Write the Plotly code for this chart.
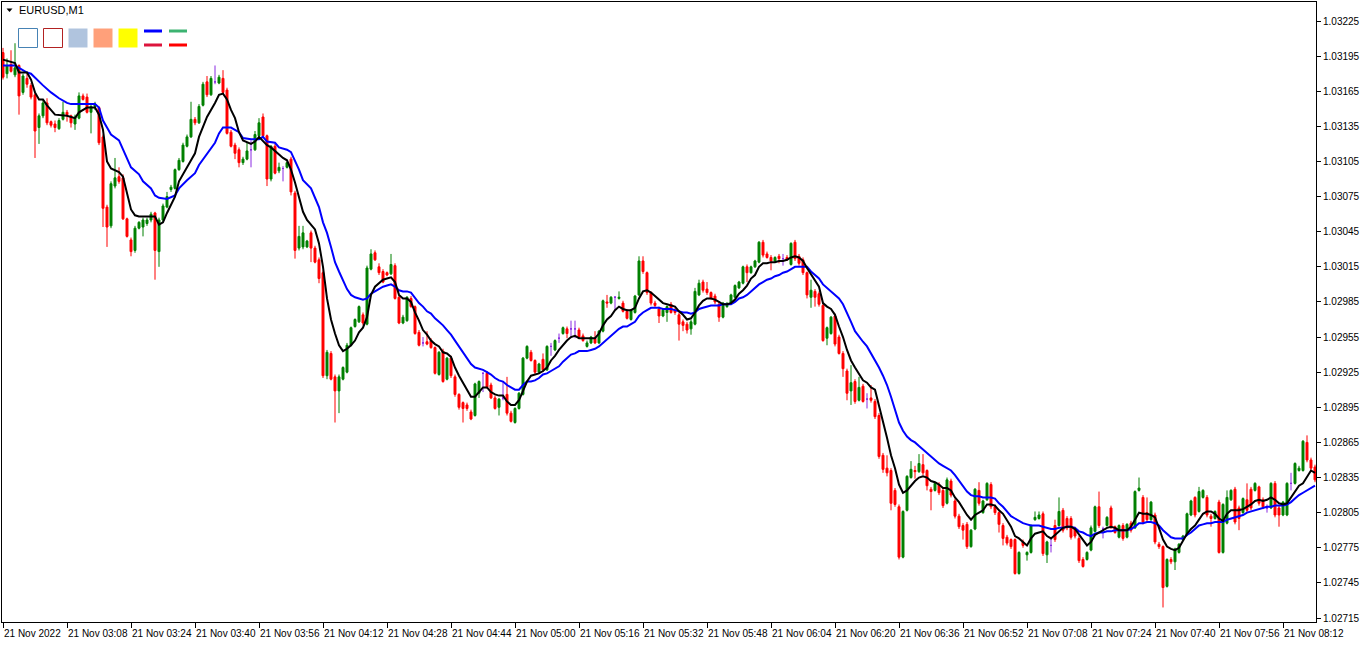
import plotly.graph_objects as go
import pandas as pd

# ---------------- data (EURUSD M1, 21 Nov 2022, 02:52 - 08:20) ----------------
start_time = "2022-11-21 02:52"

opens = [
    1.03198, 1.03180, 1.03188, 1.03179, 1.03187, 1.03164, 1.03176, 1.03170, 1.03162, 1.03134,
    1.03144, 1.03155, 1.03139, 1.03137, 1.03133, 1.03141, 1.03147, 1.03144, 1.03137, 1.03142,
    1.03161, 1.03160, 1.03147, 1.03152, 1.03151, 1.03126, 1.03066, 1.03050, 1.03084, 1.03092,
    1.03091, 1.03056, 1.03038, 1.03029, 1.03048, 1.03049, 1.03052, 1.03055, 1.03061, 1.03028,
    1.03055, 1.03066, 1.03081, 1.03082, 1.03098, 1.03105, 1.03118, 1.03126, 1.03141, 1.03138,
    1.03153, 1.03173, 1.03162, 1.03173, 1.03172, 1.03176, 1.03166, 1.03130, 1.03119, 1.03115,
    1.03104, 1.03107, 1.03115, 1.03115, 1.03127, 1.03143, 1.03127, 1.03090, 1.03118, 1.03097,
    1.03099, 1.03100, 1.03107, 1.03078, 1.03031, 1.03032, 1.03032, 1.03044, 1.03031, 1.03021,
    1.03010, 1.02922, 1.02941, 1.02921, 1.02909, 1.02919, 1.02925, 1.02948, 1.02964, 1.02968,
    1.02974, 1.02966, 1.03013, 1.03027, 1.03015, 1.03011, 1.03010, 1.03009, 1.03016, 1.02989,
    1.02967, 1.02969, 1.02988, 1.02981, 1.02959, 1.02950, 1.02951, 1.02952, 1.02946, 1.02923,
    1.02943, 1.02919, 1.02937, 1.02921, 1.02906, 1.02899, 1.02897, 1.02891, 1.02888, 1.02907,
    1.02924, 1.02924, 1.02914, 1.02903, 1.02895, 1.02903, 1.02906, 1.02890, 1.02882, 1.02894,
    1.02906, 1.02937, 1.02942, 1.02935, 1.02925, 1.02936, 1.02927, 1.02947, 1.02944, 1.02954,
    1.02958, 1.02962, 1.02962, 1.02962, 1.02961, 1.02956, 1.02947, 1.02950, 1.02954, 1.02950,
    1.02960, 1.02985, 1.02984, 1.02989, 1.02988, 1.02984, 1.02977, 1.02970, 1.02976, 1.02991,
    1.03020, 1.03010, 1.02993, 1.02984, 1.02979, 1.02973, 1.02976, 1.02983, 1.02978, 1.02974,
    1.02968, 1.02966, 1.02962, 1.02966, 1.02991, 1.03002, 1.02996, 1.02993, 1.02990, 1.02983,
    1.02972, 1.02981, 1.02984, 1.02989, 1.02997, 1.03001, 1.03015, 1.03010, 1.03015, 1.03019,
    1.03036, 1.03026, 1.03023, 1.03020, 1.03024, 1.03022, 1.03023, 1.03017, 1.03036, 1.03024,
    1.03021, 1.03010, 1.02989, 1.02994, 1.02992, 1.02982, 1.02954, 1.02958, 1.02973, 1.02955,
    1.02941, 1.02926, 1.02909, 1.02917, 1.02901, 1.02913, 1.02902, 1.02903, 1.02900, 1.02888,
    1.02854, 1.02843, 1.02841, 1.02824, 1.02810, 1.02767, 1.02807, 1.02835, 1.02841, 1.02840,
    1.02846, 1.02841, 1.02825, 1.02824, 1.02829, 1.02824, 1.02813, 1.02832, 1.02815, 1.02802,
    1.02794, 1.02795, 1.02776, 1.02791, 1.02824, 1.02805, 1.02816, 1.02829, 1.02810, 1.02805,
    1.02794, 1.02784, 1.02782, 1.02782, 1.02753, 1.02780, 1.02769, 1.02771, 1.02799, 1.02800,
    1.02804, 1.02769, 1.02777, 1.02794, 1.02794, 1.02807, 1.02800, 1.02800, 1.02791, 1.02783,
    1.02765, 1.02765, 1.02773, 1.02789, 1.02810, 1.02791, 1.02794, 1.02809, 1.02793, 1.02784,
    1.02794, 1.02784, 1.02796, 1.02792, 1.02824, 1.02818, 1.02805, 1.02799, 1.02803, 1.02778,
    1.02776, 1.02742, 1.02765, 1.02763, 1.02771, 1.02782, 1.02786, 1.02803, 1.02818, 1.02806,
    1.02818, 1.02818, 1.02802, 1.02800, 1.02814, 1.02771, 1.02796, 1.02816, 1.02825, 1.02809,
    1.02805, 1.02816, 1.02825, 1.02824, 1.02827, 1.02816, 1.02809, 1.02809, 1.02830, 1.02809,
    1.02803, 1.02803, 1.02830, 1.02830, 1.02841, 1.02841, 1.02865, 1.02850, 1.02844,
]

highs = [
    1.03202, 1.03193, 1.03200, 1.03206, 1.03188, 1.03180, 1.03180, 1.03172, 1.03164, 1.03146,
    1.03158, 1.03159, 1.03140, 1.03140, 1.03142, 1.03156, 1.03149, 1.03145, 1.03145, 1.03164,
    1.03163, 1.03163, 1.03154, 1.03156, 1.03152, 1.03128, 1.03068, 1.03088, 1.03108, 1.03100,
    1.03094, 1.03057, 1.03040, 1.03050, 1.03054, 1.03057, 1.03057, 1.03062, 1.03062, 1.03057,
    1.03069, 1.03079, 1.03085, 1.03099, 1.03108, 1.03121, 1.03128, 1.03156, 1.03143, 1.03154,
    1.03173, 1.03178, 1.03178, 1.03187, 1.03179, 1.03183, 1.03168, 1.03132, 1.03121, 1.03117,
    1.03109, 1.03121, 1.03123, 1.03131, 1.03142, 1.03146, 1.03128, 1.03119, 1.03120, 1.03104,
    1.03101, 1.03105, 1.03109, 1.03080, 1.03050, 1.03050, 1.03038, 1.03046, 1.03033, 1.03023,
    1.03012, 1.02944, 1.02943, 1.02923, 1.02923, 1.02930, 1.02950, 1.02964, 1.02971, 1.02982,
    1.02976, 1.03016, 1.03030, 1.03029, 1.03018, 1.03013, 1.03011, 1.03026, 1.03018, 1.02991,
    1.02974, 1.02990, 1.02990, 1.02982, 1.02961, 1.02955, 1.02960, 1.02954, 1.02947, 1.02943,
    1.02945, 1.02938, 1.02939, 1.02923, 1.02907, 1.02900, 1.02899, 1.02893, 1.02916, 1.02918,
    1.02925, 1.02926, 1.02916, 1.02905, 1.02903, 1.02917, 1.02921, 1.02892, 1.02895, 1.02908,
    1.02938, 1.02948, 1.02944, 1.02936, 1.02933, 1.02941, 1.02948, 1.02950, 1.02953, 1.02958,
    1.02964, 1.02964, 1.02969, 1.02969, 1.02963, 1.02958, 1.02952, 1.02956, 1.02960, 1.02961,
    1.02987, 1.02991, 1.02990, 1.02990, 1.02994, 1.02986, 1.02979, 1.02979, 1.02991, 1.03024,
    1.03024, 1.03011, 1.02994, 1.02986, 1.02981, 1.02979, 1.02982, 1.02985, 1.02980, 1.02976,
    1.02970, 1.02968, 1.02970, 1.02997, 1.03004, 1.03004, 1.03002, 1.02994, 1.02992, 1.02985,
    1.02985, 1.02985, 1.02992, 1.03000, 1.03003, 1.03016, 1.03017, 1.03016, 1.03021, 1.03037,
    1.03038, 1.03028, 1.03025, 1.03024, 1.03026, 1.03026, 1.03025, 1.03036, 1.03038, 1.03026,
    1.03023, 1.03011, 1.03004, 1.02996, 1.02994, 1.02984, 1.02964, 1.02973, 1.02975, 1.02957,
    1.02943, 1.02928, 1.02931, 1.02919, 1.02921, 1.02915, 1.02907, 1.02914, 1.02902, 1.02890,
    1.02856, 1.02854, 1.02843, 1.02826, 1.02812, 1.02807, 1.02837, 1.02849, 1.02845, 1.02855,
    1.02855, 1.02842, 1.02827, 1.02831, 1.02831, 1.02826, 1.02835, 1.02834, 1.02817, 1.02804,
    1.02796, 1.02797, 1.02791, 1.02826, 1.02831, 1.02816, 1.02831, 1.02831, 1.02812, 1.02806,
    1.02796, 1.02786, 1.02783, 1.02783, 1.02772, 1.02782, 1.02772, 1.02795, 1.02806, 1.02806,
    1.02806, 1.02781, 1.02784, 1.02799, 1.02818, 1.02809, 1.02802, 1.02802, 1.02793, 1.02785,
    1.02767, 1.02772, 1.02794, 1.02811, 1.02823, 1.02793, 1.02802, 1.02811, 1.02794, 1.02795,
    1.02796, 1.02796, 1.02798, 1.02824, 1.02835, 1.02820, 1.02818, 1.02815, 1.02805, 1.02780,
    1.02777, 1.02766, 1.02767, 1.02775, 1.02779, 1.02786, 1.02805, 1.02816, 1.02819, 1.02827,
    1.02825, 1.02820, 1.02804, 1.02807, 1.02816, 1.02813, 1.02824, 1.02825, 1.02827, 1.02811,
    1.02818, 1.02830, 1.02827, 1.02831, 1.02828, 1.02818, 1.02812, 1.02831, 1.02832, 1.02811,
    1.02815, 1.02831, 1.02839, 1.02848, 1.02845, 1.02867, 1.02871, 1.02852, 1.02846,
]

lows = [
    1.03175, 1.03176, 1.03181, 1.03177, 1.03145, 1.03162, 1.03168, 1.03158, 1.03108, 1.03120,
    1.03142, 1.03136, 1.03134, 1.03130, 1.03132, 1.03140, 1.03139, 1.03134, 1.03132, 1.03141,
    1.03157, 1.03146, 1.03129, 1.03149, 1.03119, 1.03049, 1.03032, 1.03048, 1.03082, 1.03086,
    1.03055, 1.03040, 1.03024, 1.03027, 1.03047, 1.03041, 1.03050, 1.03053, 1.03004, 1.03015,
    1.03053, 1.03065, 1.03079, 1.03081, 1.03097, 1.03104, 1.03117, 1.03125, 1.03136, 1.03137,
    1.03152, 1.03160, 1.03161, 1.03171, 1.03171, 1.03163, 1.03128, 1.03117, 1.03107, 1.03100,
    1.03102, 1.03106, 1.03100, 1.03114, 1.03126, 1.03126, 1.03084, 1.03088, 1.03094, 1.03095,
    1.03088, 1.03099, 1.03076, 1.03022, 1.03029, 1.03030, 1.03031, 1.03019, 1.03018, 1.03001,
    1.02920, 1.02919, 1.02918, 1.02882, 1.02890, 1.02918, 1.02924, 1.02947, 1.02963, 1.02967,
    1.02965, 1.02965, 1.03012, 1.03020, 1.03008, 1.03001, 1.03007, 1.03008, 1.02987, 1.02966,
    1.02966, 1.02968, 1.02980, 1.02957, 1.02947, 1.02947, 1.02948, 1.02945, 1.02923, 1.02922,
    1.02916, 1.02918, 1.02920, 1.02904, 1.02893, 1.02882, 1.02892, 1.02884, 1.02887, 1.02903,
    1.02908, 1.02911, 1.02902, 1.02893, 1.02888, 1.02901, 1.02888, 1.02882, 1.02881, 1.02893,
    1.02905, 1.02936, 1.02934, 1.02923, 1.02924, 1.02925, 1.02926, 1.02939, 1.02943, 1.02950,
    1.02957, 1.02954, 1.02954, 1.02954, 1.02954, 1.02951, 1.02946, 1.02949, 1.02949, 1.02949,
    1.02959, 1.02980, 1.02983, 1.02978, 1.02987, 1.02976, 1.02970, 1.02969, 1.02975, 1.02990,
    1.03009, 1.02991, 1.02982, 1.02980, 1.02967, 1.02972, 1.02968, 1.02975, 1.02974, 1.02952,
    1.02960, 1.02958, 1.02957, 1.02965, 1.02990, 1.02993, 1.02991, 1.02987, 1.02983, 1.02968,
    1.02971, 1.02980, 1.02983, 1.02988, 1.02996, 1.03000, 1.03002, 1.03009, 1.03014, 1.03018,
    1.03023, 1.03022, 1.03012, 1.03019, 1.03018, 1.03016, 1.03020, 1.03016, 1.03020, 1.03016,
    1.03008, 1.02988, 1.02980, 1.02981, 1.02981, 1.02951, 1.02948, 1.02957, 1.02947, 1.02940,
    1.02921, 1.02901, 1.02897, 1.02898, 1.02900, 1.02899, 1.02894, 1.02899, 1.02885, 1.02851,
    1.02839, 1.02836, 1.02807, 1.02810, 1.02765, 1.02766, 1.02806, 1.02834, 1.02834, 1.02839,
    1.02837, 1.02824, 1.02807, 1.02823, 1.02820, 1.02809, 1.02812, 1.02818, 1.02800, 1.02791,
    1.02782, 1.02774, 1.02775, 1.02790, 1.02811, 1.02804, 1.02815, 1.02808, 1.02803, 1.02788,
    1.02777, 1.02777, 1.02774, 1.02752, 1.02752, 1.02775, 1.02764, 1.02770, 1.02798, 1.02799,
    1.02768, 1.02762, 1.02771, 1.02780, 1.02793, 1.02788, 1.02790, 1.02782, 1.02783, 1.02762,
    1.02758, 1.02764, 1.02772, 1.02788, 1.02792, 1.02783, 1.02793, 1.02791, 1.02787, 1.02783,
    1.02781, 1.02783, 1.02788, 1.02791, 1.02823, 1.02795, 1.02797, 1.02798, 1.02778, 1.02774,
    1.02724, 1.02741, 1.02761, 1.02756, 1.02770, 1.02781, 1.02785, 1.02802, 1.02801, 1.02805,
    1.02817, 1.02801, 1.02793, 1.02799, 1.02770, 1.02770, 1.02795, 1.02815, 1.02795, 1.02790,
    1.02804, 1.02805, 1.02807, 1.02823, 1.02811, 1.02808, 1.02805, 1.02808, 1.02801, 1.02793,
    1.02802, 1.02802, 1.02824, 1.02829, 1.02840, 1.02840, 1.02848, 1.02841, 1.02831,
]

closes = [
    1.03177, 1.03187, 1.03182, 1.03185, 1.03161, 1.03178, 1.03171, 1.03160, 1.03131, 1.03144,
    1.03155, 1.03138, 1.03136, 1.03134, 1.03140, 1.03147, 1.03145, 1.03138, 1.03143, 1.03161,
    1.03158, 1.03147, 1.03152, 1.03154, 1.03121, 1.03065, 1.03049, 1.03086, 1.03091, 1.03088,
    1.03056, 1.03041, 1.03028, 1.03048, 1.03053, 1.03055, 1.03055, 1.03060, 1.03029, 1.03055,
    1.03067, 1.03075, 1.03083, 1.03098, 1.03106, 1.03119, 1.03126, 1.03141, 1.03138, 1.03152,
    1.03171, 1.03162, 1.03176, 1.03173, 1.03177, 1.03164, 1.03129, 1.03118, 1.03112, 1.03104,
    1.03107, 1.03114, 1.03115, 1.03128, 1.03138, 1.03127, 1.03090, 1.03118, 1.03095, 1.03100,
    1.03099, 1.03104, 1.03079, 1.03029, 1.03041, 1.03044, 1.03037, 1.03031, 1.03019, 1.03005,
    1.02922, 1.02942, 1.02919, 1.02909, 1.02921, 1.02929, 1.02948, 1.02963, 1.02970, 1.02981,
    1.02967, 1.03014, 1.03026, 1.03021, 1.03010, 1.03002, 1.03008, 1.03017, 1.02988, 1.02967,
    1.02972, 1.02989, 1.02981, 1.02958, 1.02948, 1.02950, 1.02949, 1.02946, 1.02924, 1.02942,
    1.02917, 1.02937, 1.02922, 1.02906, 1.02895, 1.02894, 1.02894, 1.02885, 1.02915, 1.02917,
    1.02924, 1.02912, 1.02903, 1.02894, 1.02902, 1.02903, 1.02890, 1.02883, 1.02894, 1.02907,
    1.02937, 1.02947, 1.02935, 1.02925, 1.02932, 1.02927, 1.02947, 1.02947, 1.02952, 1.02954,
    1.02963, 1.02958, 1.02962, 1.02962, 1.02955, 1.02952, 1.02950, 1.02955, 1.02950, 1.02960,
    1.02986, 1.02984, 1.02989, 1.02989, 1.02989, 1.02977, 1.02971, 1.02978, 1.02990, 1.03020,
    1.03011, 1.02993, 1.02984, 1.02982, 1.02973, 1.02978, 1.02981, 1.02976, 1.02976, 1.02966,
    1.02965, 1.02961, 1.02968, 1.02994, 1.03001, 1.02995, 1.02993, 1.02988, 1.02985, 1.02972,
    1.02984, 1.02983, 1.02991, 1.02999, 1.03002, 1.03015, 1.03010, 1.03015, 1.03020, 1.03036,
    1.03025, 1.03023, 1.03020, 1.03023, 1.03022, 1.03022, 1.03021, 1.03035, 1.03022, 1.03018,
    1.03010, 1.02991, 1.02995, 1.02989, 1.02983, 1.02952, 1.02963, 1.02972, 1.02949, 1.02941,
    1.02928, 1.02907, 1.02916, 1.02900, 1.02912, 1.02900, 1.02902, 1.02901, 1.02887, 1.02853,
    1.02842, 1.02839, 1.02813, 1.02812, 1.02767, 1.02806, 1.02836, 1.02842, 1.02840, 1.02847,
    1.02839, 1.02828, 1.02823, 1.02830, 1.02822, 1.02811, 1.02833, 1.02820, 1.02802, 1.02793,
    1.02790, 1.02776, 1.02790, 1.02825, 1.02813, 1.02815, 1.02830, 1.02810, 1.02805, 1.02795,
    1.02783, 1.02779, 1.02776, 1.02753, 1.02771, 1.02777, 1.02771, 1.02794, 1.02801, 1.02803,
    1.02770, 1.02780, 1.02777, 1.02782, 1.02806, 1.02790, 1.02792, 1.02784, 1.02785, 1.02764,
    1.02759, 1.02771, 1.02792, 1.02810, 1.02794, 1.02791, 1.02801, 1.02793, 1.02788, 1.02794,
    1.02783, 1.02795, 1.02790, 1.02823, 1.02826, 1.02797, 1.02799, 1.02814, 1.02780, 1.02776,
    1.02741, 1.02765, 1.02763, 1.02774, 1.02778, 1.02785, 1.02804, 1.02815, 1.02803, 1.02823,
    1.02824, 1.02803, 1.02800, 1.02806, 1.02771, 1.02812, 1.02818, 1.02824, 1.02797, 1.02800,
    1.02817, 1.02807, 1.02809, 1.02830, 1.02813, 1.02810, 1.02809, 1.02830, 1.02803, 1.02803,
    1.02814, 1.02830, 1.02830, 1.02847, 1.02843, 1.02866, 1.02850, 1.02843, 1.02833,
]

# fast moving average (black) - bar index and value
fast_t = [0, 3, 4, 6, 7, 8, 9, 10, 11, 12, 13, 16, 18, 19, 21, 23, 24, 25, 26, 27,
          29, 30, 31, 32, 33, 34, 36, 38, 39, 40, 41, 43, 44, 46, 48, 49, 51, 53, 54, 55,
          56, 57, 58, 59, 60, 62, 63, 64, 66, 67, 69, 70, 71, 72, 73, 74, 75, 76, 78, 79,
          80] + list(range(81, 329))
fast_v = [
    1.03192, 1.03189, 1.03181, 1.03181, 1.03175, 1.03164, 1.03158, 1.03158, 1.03153, 1.03149,
    1.03145, 1.03144, 1.03142, 1.03147, 1.03151, 1.03151, 1.03145, 1.03132, 1.03105, 1.03099,
    1.03096, 1.03092, 1.03078, 1.03064, 1.03059, 1.03058, 1.03058, 1.03058, 1.03051, 1.03053,
    1.03061, 1.03075, 1.03088, 1.03100, 1.03112, 1.03126, 1.03143, 1.03155, 1.03162, 1.03163,
    1.03158, 1.03149, 1.03142, 1.03130, 1.03123, 1.03120, 1.03122, 1.03126, 1.03119, 1.03117,
    1.03111, 1.03108, 1.03106, 1.03098, 1.03087, 1.03075, 1.03062, 1.03055, 1.03047, 1.03035,
    1.03015,
    1.02988, 1.02970, 1.02958, 1.02948, 1.02943, 1.02945, 1.02948, 1.02952, 1.02959, 1.02963,
    1.02972, 1.02991, 1.02998, 1.03001, 1.03004, 1.03005, 1.03006, 1.03002, 1.02991, 1.02988,
    1.02988, 1.02985, 1.02976, 1.02969, 1.02961, 1.02957, 1.02952, 1.02949, 1.02947, 1.02942,
    1.02941, 1.02938, 1.02929, 1.02922, 1.02916, 1.02909, 1.02904, 1.02904, 1.02908, 1.02912,
    1.02912, 1.02908, 1.02906, 1.02905, 1.02905, 1.02900, 1.02897, 1.02897, 1.02901, 1.02909,
    1.02917, 1.02922, 1.02923, 1.02924, 1.02926, 1.02929, 1.02935, 1.02939, 1.02944, 1.02948,
    1.02952, 1.02955, 1.02956, 1.02954, 1.02954, 1.02954, 1.02954, 1.02954, 1.02958, 1.02965,
    1.02970, 1.02973, 1.02978, 1.02981, 1.02979, 1.02978, 1.02978, 1.02980, 1.02988, 1.02994,
    1.02995, 1.02993, 1.02990, 1.02987, 1.02984, 1.02983, 1.02982, 1.02981, 1.02977, 1.02974,
    1.02970, 1.02971, 1.02976, 1.02982, 1.02986, 1.02988, 1.02988, 1.02987, 1.02985, 1.02983,
    1.02983, 1.02984, 1.02987, 1.02992, 1.02995, 1.02999, 1.03005, 1.03008, 1.03015, 1.03018,
    1.03018, 1.03019, 1.03019, 1.03020, 1.03020, 1.03021, 1.03023, 1.03024, 1.03023, 1.03020,
    1.03014, 1.03009, 1.03004, 1.02998, 1.02984, 1.02981, 1.02979, 1.02974, 1.02964, 1.02955,
    1.02944, 1.02935, 1.02929, 1.02923, 1.02918, 1.02916, 1.02912, 1.02910, 1.02897, 1.02882,
    1.02869, 1.02854, 1.02843, 1.02829, 1.02822, 1.02824, 1.02828, 1.02832, 1.02835, 1.02836,
    1.02835, 1.02832, 1.02831, 1.02829, 1.02826, 1.02826, 1.02824, 1.02818, 1.02814, 1.02808,
    1.02803, 1.02799, 1.02803, 1.02805, 1.02807, 1.02812, 1.02812, 1.02811, 1.02807, 1.02804,
    1.02799, 1.02793, 1.02785, 1.02783, 1.02780, 1.02777, 1.02783, 1.02787, 1.02788, 1.02789,
    1.02785, 1.02783, 1.02786, 1.02789, 1.02792, 1.02793, 1.02793, 1.02791, 1.02786, 1.02781,
    1.02777, 1.02780, 1.02786, 1.02788, 1.02790, 1.02792, 1.02793, 1.02792, 1.02790, 1.02790,
    1.02790, 1.02793, 1.02799, 1.02805, 1.02804, 1.02804, 1.02803, 1.02801, 1.02792, 1.02782,
    1.02776, 1.02774, 1.02773, 1.02775, 1.02781, 1.02787, 1.02791, 1.02794, 1.02799, 1.02804,
    1.02806, 1.02806, 1.02804, 1.02800, 1.02798, 1.02804, 1.02807, 1.02807, 1.02807, 1.02808,
    1.02810, 1.02812, 1.02815, 1.02816, 1.02815, 1.02816, 1.02818, 1.02816, 1.02813, 1.02812,
    1.02813, 1.02818, 1.02824, 1.02828, 1.02830, 1.02835, 1.02841, 1.02839,
]

# slow moving average (blue)
slow_t = [0, 3, 4, 6, 7, 9, 10, 12, 14, 16, 17, 19, 23, 24, 25, 26, 27, 29, 30, 32,
          34, 35, 37, 38, 39, 41, 43, 44, 46, 48, 49, 51, 53, 54, 55, 57, 59, 60, 62, 64,
          65, 66, 68, 69, 71, 72, 73, 74, 75, 77, 78, 79, 80] + list(range(81, 329))
slow_v = [
    1.03187, 1.03187, 1.03185, 1.03181, 1.03180, 1.03173, 1.03170, 1.03164, 1.03159, 1.03155,
    1.03154, 1.03154, 1.03154, 1.03151, 1.03140, 1.03134, 1.03128, 1.03123, 1.03115, 1.03100,
    1.03094, 1.03088, 1.03082, 1.03076, 1.03074, 1.03073, 1.03076, 1.03082, 1.03089, 1.03095,
    1.03102, 1.03111, 1.03121, 1.03129, 1.03134, 1.03134, 1.03130, 1.03125, 1.03124, 1.03124,
    1.03126, 1.03122, 1.03121, 1.03117, 1.03115, 1.03113, 1.03106, 1.03098, 1.03089, 1.03082,
    1.03074, 1.03066, 1.03053,
    1.03044, 1.03032, 1.03019, 1.03011, 1.03003, 1.02996, 1.02991, 1.02989, 1.02988, 1.02987,
    1.02988, 1.02992, 1.02994, 1.02996, 1.02998, 1.02999, 1.03000, 1.02998, 1.02995, 1.02994,
    1.02994, 1.02993, 1.02988, 1.02984, 1.02981, 1.02977, 1.02975, 1.02971, 1.02968, 1.02965,
    1.02961, 1.02957, 1.02952, 1.02947, 1.02942, 1.02937, 1.02932, 1.02929, 1.02928, 1.02927,
    1.02925, 1.02923, 1.02920, 1.02918, 1.02917, 1.02914, 1.02912, 1.02910, 1.02910, 1.02914,
    1.02917, 1.02917, 1.02918, 1.02920, 1.02923, 1.02924, 1.02926, 1.02928, 1.02930, 1.02934,
    1.02937, 1.02940, 1.02941, 1.02943, 1.02943, 1.02943, 1.02944, 1.02945, 1.02947, 1.02950,
    1.02953, 1.02956, 1.02959, 1.02962, 1.02964, 1.02964, 1.02966, 1.02968, 1.02973, 1.02976,
    1.02978, 1.02980, 1.02980, 1.02980, 1.02979, 1.02979, 1.02979, 1.02978, 1.02977, 1.02976,
    1.02976, 1.02975, 1.02976, 1.02979, 1.02980, 1.02981, 1.02982, 1.02982, 1.02982, 1.02983,
    1.02983, 1.02983, 1.02985, 1.02988, 1.02989, 1.02991, 1.02994, 1.02997, 1.03000, 1.03002,
    1.03004, 1.03005, 1.03007, 1.03008, 1.03010, 1.03011, 1.03013, 1.03015, 1.03015, 1.03015,
    1.03015, 1.03011, 1.03008, 1.03005, 1.03000, 1.02997, 1.02994, 1.02991, 1.02988, 1.02983,
    1.02976, 1.02968, 1.02960, 1.02955, 1.02951, 1.02947, 1.02941, 1.02936, 1.02929, 1.02922,
    1.02914, 1.02904, 1.02893, 1.02882, 1.02875, 1.02870, 1.02867, 1.02865, 1.02862, 1.02859,
    1.02856, 1.02853, 1.02850, 1.02847, 1.02845, 1.02843, 1.02841, 1.02837, 1.02832, 1.02828,
    1.02823, 1.02820, 1.02819, 1.02819, 1.02818, 1.02818, 1.02818, 1.02817, 1.02813, 1.02810,
    1.02806, 1.02802, 1.02800, 1.02798, 1.02796, 1.02795, 1.02794, 1.02794, 1.02794, 1.02793,
    1.02792, 1.02791, 1.02791, 1.02792, 1.02792, 1.02793, 1.02793, 1.02792, 1.02789, 1.02788,
    1.02786, 1.02785, 1.02787, 1.02788, 1.02788, 1.02789, 1.02789, 1.02790, 1.02790, 1.02790,
    1.02790, 1.02791, 1.02793, 1.02796, 1.02796, 1.02797, 1.02797, 1.02796, 1.02794, 1.02790,
    1.02787, 1.02784, 1.02783, 1.02783, 1.02783, 1.02786, 1.02788, 1.02791, 1.02794, 1.02795,
    1.02796, 1.02796, 1.02797, 1.02797, 1.02797, 1.02799, 1.02800, 1.02801, 1.02802, 1.02803,
    1.02805, 1.02806, 1.02807, 1.02808, 1.02809, 1.02810, 1.02810, 1.02811, 1.02811, 1.02811,
    1.02812, 1.02814, 1.02817, 1.02820, 1.02822, 1.02824, 1.02826, 1.02828,
]

time_tick_bars = list(range(0, 321, 16))
time_tick_labels = [
    "21 Nov 2022", "21 Nov 03:08", "21 Nov 03:24", "21 Nov 03:40", "21 Nov 03:56",
    "21 Nov 04:12", "21 Nov 04:28", "21 Nov 04:44", "21 Nov 05:00", "21 Nov 05:16",
    "21 Nov 05:32", "21 Nov 05:48", "21 Nov 06:04", "21 Nov 06:20", "21 Nov 06:36",
    "21 Nov 06:52", "21 Nov 07:08", "21 Nov 07:24", "21 Nov 07:40", "21 Nov 07:56",
    "21 Nov 08:12",
]
price_tick_labels = [
    "1.03225", "1.03195", "1.03165", "1.03135", "1.03105", "1.03075", "1.03045",
    "1.03015", "1.02985", "1.02955", "1.02925", "1.02895", "1.02865", "1.02835",
    "1.02805", "1.02775", "1.02745", "1.02715",
]

# ---------------- figure ----------------
W, H = 1362, 645
ML, MR, MT, MB = 2, 46, 2, 23
PW, PH = W - ML - MR, H - MT - MB

n = min(len(opens), len(highs), len(lows), len(closes))
times = pd.date_range(start_time, periods=n, freq="min")

GREEN = "#008000"
RED = "#FF0000"
DOJI = "#8A2BE2"
FONT = "Liberation Sans"


def pick(idx):
    return dict(
        x=[times[i] for i in idx],
        open=[opens[i] for i in idx],
        high=[highs[i] for i in idx],
        low=[lows[i] for i in idx],
        close=[closes[i] for i in idx],
    )


moving = [i for i in range(n) if closes[i] != opens[i]]
dojis = [i for i in range(n) if closes[i] == opens[i]]

fig = go.Figure()
fig.add_trace(go.Candlestick(
    **pick(moving),
    increasing=dict(line=dict(color=GREEN, width=1), fillcolor=GREEN),
    decreasing=dict(line=dict(color=RED, width=1), fillcolor=RED),
    whiskerwidth=0, showlegend=False, hoverinfo="skip",
))
fig.add_trace(go.Candlestick(
    **pick(dojis),
    increasing=dict(line=dict(color=DOJI, width=1), fillcolor=DOJI),
    decreasing=dict(line=dict(color=DOJI, width=1), fillcolor=DOJI),
    whiskerwidth=0, showlegend=False, hoverinfo="skip",
))

ms = min(len(slow_t), len(slow_v))
fig.add_trace(go.Scatter(
    x=[times[i] for i in slow_t[:ms]], y=slow_v[:ms], mode="lines",
    line=dict(color="#0000FF", width=2), showlegend=False, hoverinfo="skip",
))
mf = min(len(fast_t), len(fast_v))
fig.add_trace(go.Scatter(
    x=[times[i] for i in fast_t[:mf]], y=fast_v[:mf], mode="lines",
    line=dict(color="#000000", width=2), showlegend=False, hoverinfo="skip",
))


def px(xp):
    return (xp - ML) / PW


def py(yp):
    return 1 - (yp - MT) / PH


shapes = []
# top-left indicator legend boxes
boxes = [
    (18, "#FFFFFF", "#4682B4"),
    (43, "#FFFFFF", "#B22222"),
    (68, "#B0C4DE", None),
    (93, "#FFA07A", None),
    (118, "#FFFF00", None),
]
for x0, fill, edge in boxes:
    shapes.append(dict(
        type="rect", xref="paper", yref="paper", layer="above",
        x0=px(x0 + 0.5), x1=px(x0 + 19.5), y0=py(47.5), y1=py(28.5),
        fillcolor=fill,
        line=dict(color=edge if edge else fill, width=1 if edge else 0),
    ))
bars = [
    (144, 29.5, 32.5, "#0000FF"), (144, 43.5, 46.5, "#DC143C"),
    (169, 29.5, 32.5, "#3CB371"), (169, 43.5, 46.5, "#FF0000"),
]
for x0, y0, y1, col in bars:
    shapes.append(dict(
        type="rect", xref="paper", yref="paper", layer="above",
        x0=px(x0), x1=px(x0 + 18), y0=py(y1), y1=py(y0),
        fillcolor=col, line=dict(width=0),
    ))
# small black triangle before the symbol name
shapes.append(dict(
    type="path", xref="paper", yref="paper", layer="above",
    path="M {:.5f},{:.5f} L {:.5f},{:.5f} L {:.5f},{:.5f} Z".format(
        px(6.5), py(8.5), px(12.5), py(8.5), px(9.5), py(12)),
    fillcolor="#000000", line=dict(width=0),
))

fig.update_layout(
    width=W, height=H,
    margin=dict(l=ML, r=MR, t=MT, b=MB, pad=0, autoexpand=False),
    paper_bgcolor="#FFFFFF", plot_bgcolor="#FFFFFF",
    showlegend=False, hovermode=False,
    boxgap=0.3,
    shapes=shapes,
    annotations=[dict(
        text="EURUSD,M1", xref="paper", yref="paper",
        x=px(17), y=py(10), xanchor="left", yanchor="middle", showarrow=False,
        font=dict(family=FONT, size=11, color="#000000"),
    )],
)

fig.update_xaxes(
    type="date",
    automargin=False,
    range=[times[0] - pd.Timedelta(seconds=15), times[n - 1] + pd.Timedelta(seconds=15)],
    rangeslider=dict(visible=False),
    tickmode="array",
    tickvals=[times[i] for i in time_tick_bars],
    ticktext=time_tick_labels,
    tickangle=0,
    ticks="outside", ticklen=5, tickwidth=1, tickcolor="#000000",
    ticklabelposition="outside right",
    ticklabelstandoff=2,
    tickfont=dict(family=FONT, size=10, color="#000000"),
    showgrid=False, zeroline=False,
    showline=True, mirror=True, linecolor="#000000", linewidth=1,
)
fig.update_yaxes(
    side="right",
    automargin=False,
    range=[1.0271158, 1.0324123],
    tickmode="array",
    tickvals=[float(s) for s in price_tick_labels],
    ticktext=price_tick_labels,
    ticks="outside", ticklen=4, tickwidth=1, tickcolor="#000000",
    tickfont=dict(family=FONT, size=10, color="#000000"),
    showgrid=False, zeroline=False,
    showline=True, mirror=True, linecolor="#000000", linewidth=1,
)

fig.write_html(
    "out.html",
    config={"displayModeBar": False},
    post_script="document.body.style.margin='0';document.body.style.padding='0';",
)
